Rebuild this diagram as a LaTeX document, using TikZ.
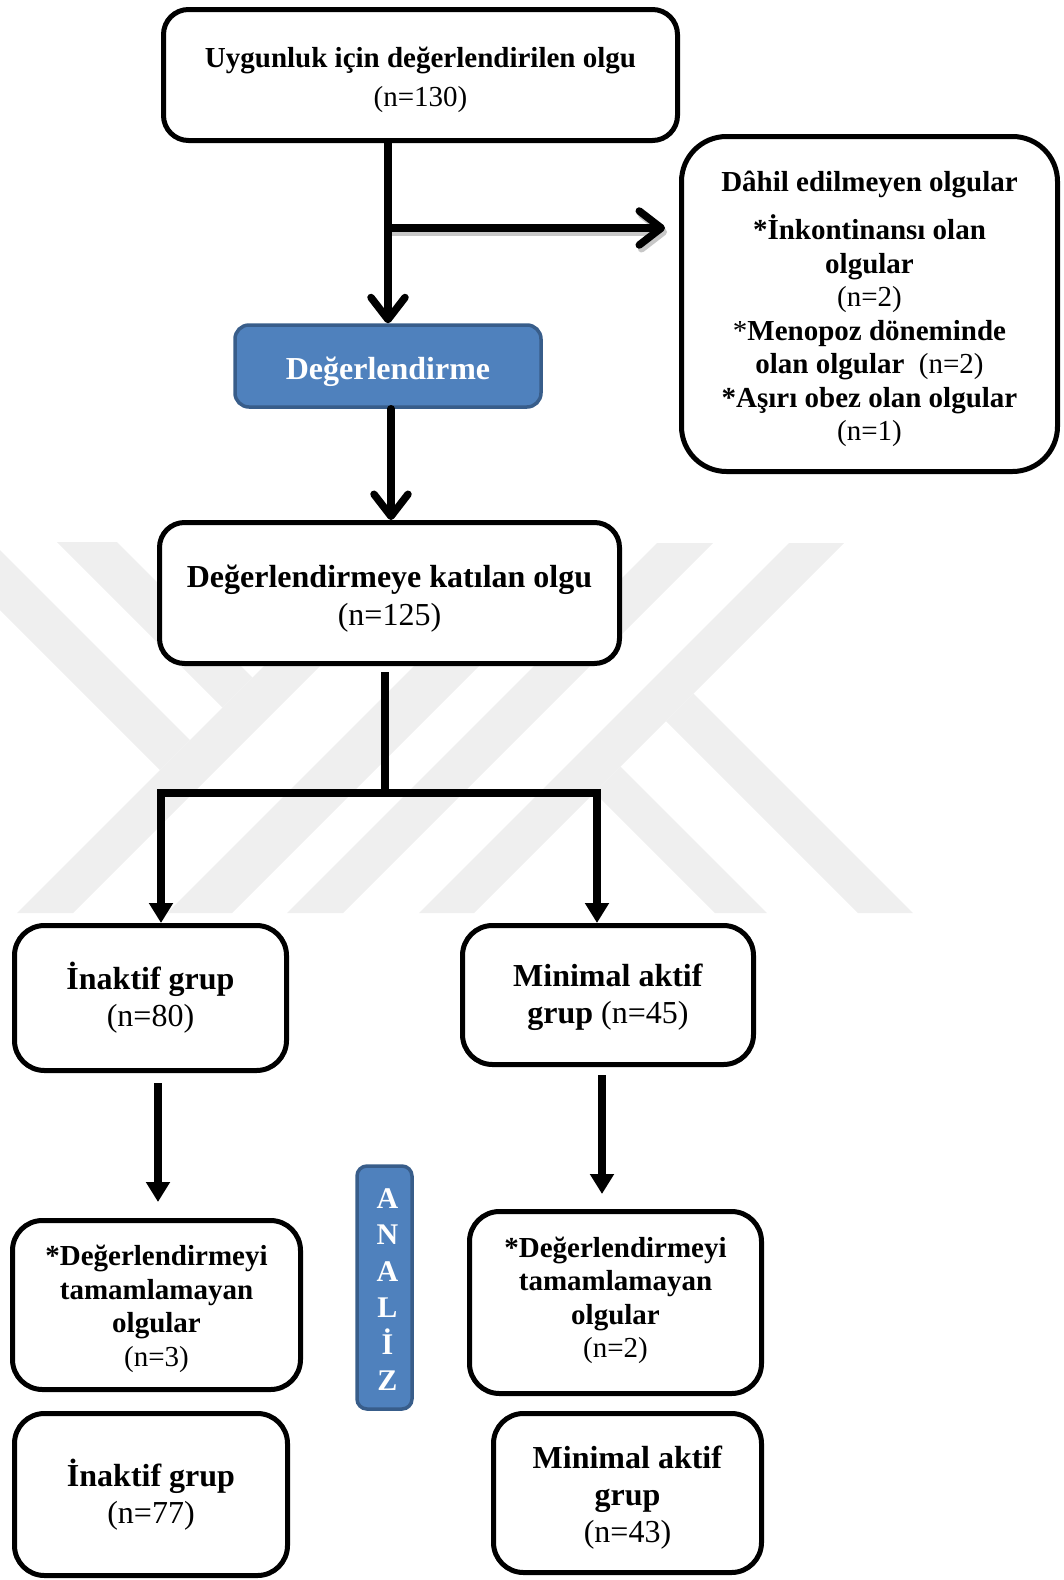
\documentclass[tikz,border=0pt]{standalone}
\usepackage{fontspec}
\setmainfont{Liberation Serif}
\usetikzlibrary{arrows.meta,calc}
\definecolor{boxblue}{HTML}{4F81BD}
\definecolor{boxblueline}{HTML}{385D8A}
\definecolor{wmark}{HTML}{EFEFEF}
\tikzset{
  box/.style={draw=black, line width=5pt, rounded corners=25pt, fill=white, inner sep=0pt},
  bluebox/.style={draw=boxblueline, line width=3.5pt, rounded corners=14pt, fill=boxblue, inner sep=0pt},
  txt/.style={align=center, inner sep=0pt},
  wtxt/.style={txt, text=white},
  conn/.style={line width=7.5pt, draw=black},
  vhead/.style={conn, line cap=round, -{Straight Barb[length=22pt,width=34pt,line cap=round,line join=round]}},
  vshadow/.style={line width=7pt, draw=black!22, line cap=round, -{Straight Barb[length=22pt,width=34pt,line cap=round,line join=round]}},
  thead/.style={conn, -{Triangle[length=20pt,width=23pt]}},
  fbig/.style={font=\fontsize{32}{37}\selectfont},
  fsmall/.style={font=\fontsize{29}{33.5}\selectfont}
}
\begin{document}
\begin{tikzpicture}[x=1pt,y=-1pt]
\useasboundingbox (0,0) rectangle (1064,1580);
% watermark
\begin{scope}
\clip (0,542) rectangle (1064,913);
\fill[wmark] (387,543) -- (443,543) -- (73,913) -- (17,913) -- cycle;
\fill[wmark] (537,543) -- (602,543) -- (232,913) -- (167,913) -- cycle;
\fill[wmark] (657,543) -- (713,543) -- (343,913) -- (287,913) -- cycle;
\fill[wmark] (789,543) -- (844,543) -- (474,913) -- (419,913) -- cycle;
\fill[wmark] (57,542) -- (117,542) -- (252.5,677.5) -- (222.5,707.5) -- cycle;
\fill[wmark] (-68,542) -- (-8,542) -- (190,740) -- (160,770) -- cycle;
\fill[wmark] (666,721) -- (693.5,693.5) -- (913,913) -- (858,913) -- cycle;
\fill[wmark] (594.5,792.5) -- (620.5,766.5) -- (767,913) -- (715,913) -- cycle;
\end{scope}
% boxes
\node[box, minimum width=514pt, minimum height=131pt] (top) at (420.5,75) {};
\node[box, rounded corners=45pt, minimum width=376pt, minimum height=335pt] (right) at (869.5,304) {};
\node[bluebox, minimum width=306pt, minimum height=82pt] (deg) at (388,366) {};
\node[box, minimum width=460pt, minimum height=141pt] (kat) at (389.5,593) {};
\node[box, rounded corners=30pt, minimum width=272pt, minimum height=145pt] (in80) at (150.5,998) {};
\node[box, rounded corners=30pt, minimum width=291pt, minimum height=139pt] (min45) at (608,995) {};
\node[box, rounded corners=30pt, minimum width=288pt, minimum height=169pt] (d3) at (156.5,1305) {};
\node[box, rounded corners=30pt, minimum width=292pt, minimum height=182pt] (d2) at (615.5,1302.5) {};
\node[box, rounded corners=30pt, minimum width=273pt, minimum height=162pt] (in77) at (151,1494.5) {};
\node[box, rounded corners=30pt, minimum width=268pt, minimum height=159pt] (min43) at (627.5,1493) {};
\node[bluebox, rounded corners=10pt, minimum width=55pt, minimum height=243pt] (analiz) at (384.5,1287.5) {};
% texts
\node[txt, font=\fontsize{29}{38.5}\selectfont] (topT) at ([yshift=-5pt]top.center)
  {\textbf{Uygunluk için değerlendirilen olgu}\\{}(n=130)};
\node[txt, fsmall] (rightT) at ([yshift=-5pt]right.center)
  {\textbf{Dâhil edilmeyen olgular}\\[15pt]\textbf{*İnkontinansı olan}\\\textbf{olgular}\\{}(n=2)\\{}*\textbf{Menopoz döneminde}\\\textbf{olan olgular}\ \ (n=2)\\\textbf{*Aşırı obez olan olgular}\\{}(n=1)};
\node[wtxt, fbig] (degT) at ([yshift=-6pt]deg.center) {\textbf{Değerlendirme}};
\node[txt, font=\fontsize{32}{38}\selectfont] (katT) at ([yshift=-6pt]kat.center)
  {\textbf{Değerlendirmeye katılan olgu}\\{}(n=125)};
\node[txt, fbig] (in80T) at (in80.center) {\textbf{İnaktif grup}\\{}(n=80)};
\node[txt, fbig] (min45T) at ([yshift=-2pt]min45.center) {\textbf{Minimal aktif}\\\textbf{grup} (n=45)};
\node[txt, fsmall] (d3T) at ([yshift=-4pt]d3.center)
  {\textbf{*Değerlendirmeyi}\\\textbf{tamamlamayan}\\\textbf{olgular}\\{}(n=3)};
\node[txt, fsmall] (d2T) at ([yshift=2pt]d2.center)
  {\textbf{*Değerlendirmeyi}\\\textbf{tamamlamayan}\\\textbf{olgular}\\{}(n=2)};
\node[txt, fbig] (in77T) at (in77.center) {\textbf{İnaktif grup}\\{}(n=77)};
\node[txt, fbig] (min43T) at ([yshift=-5pt]min43.center) {\textbf{Minimal aktif}\\\textbf{grup}\\{}(n=43)};
\node[wtxt, font=\fontsize{30}{36.5}\selectfont] (analizT) at ([xshift=3pt,yshift=-2pt]analiz.center)
  {\textbf{A}\\\textbf{N}\\\textbf{A}\\\textbf{L}\\\textbf{İ}\\\textbf{Z}};
% connectors
\coordinate (j1) at (388,228);
\draw[vshadow, shorten >=14pt, transform canvas={shift={(2pt,-4pt)}}] (j1) -- (j1 -| right.west);
\draw[conn] (deg.north |- top.south) -- (j1);
\draw[vhead] (j1) -- (deg.north);
\draw[vhead, shorten >=14pt] (j1) -- (j1 -| right.west);
\draw[vhead] ([xshift=3pt]deg.south) -- ([xshift=3pt]deg.south |- kat.north);
\coordinate (bar) at (385,793);
\coordinate (bl) at (161,793);
\coordinate (br) at (597,793);
\draw[conn, shorten <=6pt] (kat.south -| bar) -- (bar);
\draw[conn] ([xshift=-3.75pt]bl) -- ([xshift=3.75pt]br);
\draw[thead] (bl) -- (bl |- in80.north);
\draw[thead] (br) -- (br |- min45.north);
\draw[thead, shorten <=10pt, shorten >=16pt] ([xshift=7.5pt]in80.south) -- ([xshift=7.5pt]in80.south |- d3.north);
\draw[thead, shorten <=8pt, shorten >=15pt] ([xshift=-6pt]min45.south) -- ([xshift=-6pt]min45.south |- d2.north);
\end{tikzpicture}
\end{document}
